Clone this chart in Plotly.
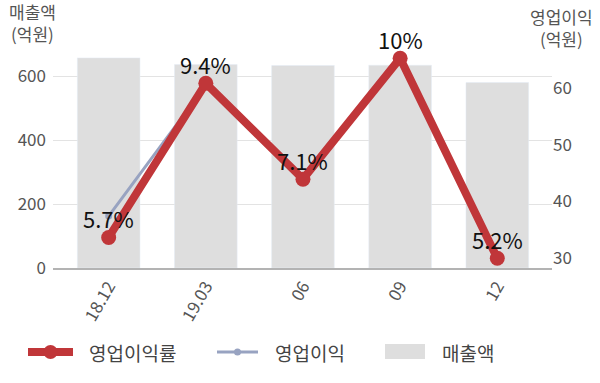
import plotly.graph_objects as go

categories = ["18.12", "19.03", "06", "09", "12"]
revenue = [658, 637, 634, 635, 581]           # 매출액 (억원)
op_profit = [37.4, 60.5, 44.0, 65.0, 30.1]    # 영업이익 (억원)
op_margin = [5.7, 9.4, 7.1, 10.0, 5.2]        # 영업이익률 (%)
margin_labels = ["5.7%", "9.4%", "7.1%", "10%", "5.2%"]
legend_names = ["영업이익률", "영업이익", "매출액"]

FONT = "Noto Sans CJK KR"
RED = "rgb(192,54,57)"
SLATE = "rgb(152,163,193)"
BAR = "#dedede"
TXT = "#555555"

# layout geometry helpers (pixels -> paper)
L, R, T, B = 53, 48, 50, 115
W, H = 600, 383
PW, PH = W - L - R, H - T - B


def px(x):
    return (x - L) / PW


def py(y):
    return (H - B - y) / PH


fig = go.Figure()

fig.add_trace(go.Bar(
    x=categories, y=revenue, name="매출액", marker_color=BAR,
    yaxis="y", showlegend=False, hoverinfo="skip",
))
fig.add_trace(go.Scatter(
    x=categories, y=op_profit, name="영업이익", mode="lines+markers",
    line=dict(color=SLATE, width=3), marker=dict(size=7, color=SLATE),
    yaxis="y2", showlegend=False,
))
fig.add_trace(go.Scatter(
    x=categories, y=op_margin, name="영업이익률", mode="lines+markers",
    line=dict(color=RED, width=8), marker=dict(size=15, color=RED),
    yaxis="y3", showlegend=False, cliponaxis=False,
))

annotations = []
for i, (v, t) in enumerate(zip(op_margin, margin_labels)):
    annotations.append(dict(
        x=i, y=v, xref="x", yref="y3", text=t, showarrow=False,
        yshift=19, xanchor="center", yanchor="middle",
        font=dict(family=FONT, size=22, color="#111111"),
    ))

# axis titles
for txt, xx, yy in [("매출액<br>(억원)", 32.5, 22.5),
                    ("영업이익<br>(억원)", 561.5, 28)]:
    annotations.append(dict(
        text=txt, xref="paper", yref="paper", x=px(xx), y=py(yy),
        xanchor="center", yanchor="middle", showarrow=False,
        font=dict(size=17, color=TXT),
    ))

# legend (drawn manually to match the reference spacing)
LY = 352
shapes = [
    dict(type="line", xref="paper", yref="paper", x0=px(28), x1=px(73),
         y0=py(LY), y1=py(LY), line=dict(color=RED, width=8)),
    dict(type="circle", xref="paper", yref="paper", xsizemode="pixel",
         ysizemode="pixel", xanchor=px(50.5), yanchor=py(LY),
         x0=-7, x1=7, y0=-7, y1=7, fillcolor=RED, line=dict(width=0)),
    dict(type="line", xref="paper", yref="paper", x0=px(217), x1=px(258),
         y0=py(LY), y1=py(LY), line=dict(color=SLATE, width=3)),
    dict(type="circle", xref="paper", yref="paper", xsizemode="pixel",
         ysizemode="pixel", xanchor=px(237.5), yanchor=py(LY),
         x0=-3.5, x1=3.5, y0=-3.5, y1=3.5, fillcolor=SLATE, line=dict(width=0)),
    dict(type="rect", xref="paper", yref="paper", x0=px(385), x1=px(425),
         y0=py(344), y1=py(359), fillcolor=BAR, line=dict(width=0)),
]
for name, xx in zip(legend_names, [87, 273, 440]):
    annotations.append(dict(
        text=name, xref="paper", yref="paper", x=px(xx), y=py(LY),
        xanchor="left", yanchor="middle", showarrow=False,
        font=dict(size=19, color="#444444"),
    ))

fig.update_layout(
    width=W, height=H,
    margin=dict(l=L, r=R, t=T, b=B),
    paper_bgcolor="white", plot_bgcolor="white",
    font=dict(family=FONT, size=17, color=TXT),
    bargap=0.355,
    showlegend=False,
    xaxis=dict(
        type="category", range=[-0.573, 4.563], tickangle=-60,
        showline=True, linecolor="#b3b3b3", linewidth=1.5,
        showgrid=False, ticks="", tickfont=dict(size=17, color=TXT),
        fixedrange=True,
    ),
    yaxis=dict(
        range=[0, 682.7], tickvals=[0, 200, 400, 600],
        showgrid=True, gridcolor="#e3e3e3", gridwidth=1,
        zeroline=False, showline=False, ticks="",
        tickfont=dict(size=17, color=TXT), ticklabelstandoff=6,
    ),
    yaxis2=dict(
        overlaying="y", side="right", range=[28.24, 66.71],
        tickvals=[30, 40, 50, 60], showgrid=False, zeroline=False,
        showline=False, ticks="", tickfont=dict(size=17, color=TXT),
    ),
    yaxis3=dict(
        overlaying="y", range=[4.967, 10.199], showgrid=False,
        zeroline=False, showline=False, showticklabels=False, ticks="",
    ),
    annotations=annotations,
    shapes=shapes,
)

fig.write_html("out.html")
